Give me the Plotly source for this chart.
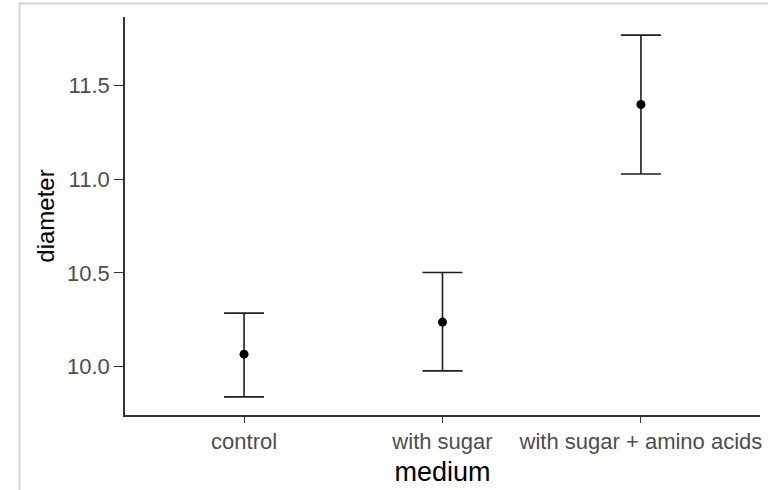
import plotly.graph_objects as go

# Mean colony diameter per growth medium, with interval bounds
medium = ["control", "with sugar", "with sugar + amino acids"]
diameter_mean = [10.066, 10.237, 11.398]
diameter_low = [9.838, 9.977, 11.027]
diameter_high = [10.285, 10.502, 11.768]

err_plus = [h - m for h, m in zip(diameter_high, diameter_mean)]
err_minus = [m - l for m, l in zip(diameter_mean, diameter_low)]

FONT = "Liberation Sans, Arial, sans-serif"
AXIS_COL = "#333333"
TICK_TXT = "#4D4D4D"

fig = go.Figure(
    go.Scatter(
        x=medium,
        y=diameter_mean,
        mode="markers",
        marker=dict(color="black", size=9),
        error_y=dict(
            type="data",
            symmetric=False,
            array=err_plus,
            arrayminus=err_minus,
            color="#1f1f1f",
            thickness=1.6,
            width=20,
        ),
        showlegend=False,
    )
)

# Data-range limits padded by 5% on each side
lo, hi = min(diameter_low), max(diameter_high)
pad = (hi - lo) * 0.05

fig.update_layout(
    width=774,
    height=490,
    margin=dict(l=125, r=14, t=17, b=75),
    paper_bgcolor="white",
    plot_bgcolor="white",
    font=dict(family=FONT),
    xaxis=dict(
        type="category",
        range=[-0.6, 2.6],
        automargin=False,
        showline=True,
        linecolor=AXIS_COL,
        linewidth=1.6,
        showgrid=False,
        zeroline=False,
        ticks="outside",
        ticklen=6,
        tickwidth=1.3,
        tickcolor=AXIS_COL,
        tickfont=dict(size=22, color=TICK_TXT, family=FONT),
        title=dict(text="medium", font=dict(size=27, color="black", family=FONT), standoff=9),
    ),
    yaxis=dict(
        range=[lo - pad, hi + pad],
        tickvals=[10.0, 10.5, 11.0, 11.5],
        ticktext=["10.0", "10.5", "11.0", "11.5"],
        automargin=False,
        showline=True,
        linecolor=AXIS_COL,
        linewidth=1.6,
        showgrid=False,
        zeroline=False,
        ticks="outside",
        ticklen=9,
        tickwidth=1.3,
        tickcolor=AXIS_COL,
        tickfont=dict(size=22, color=TICK_TXT, family=FONT),
        title=dict(text="diameter", font=dict(size=24, color="black", family=FONT), standoff=6),
    ),
)

# Thin frame along the top and left edges of the page
fig.add_shape(
    type="path",
    xref="paper",
    yref="paper",
    path="M -0.1661,-0.19 L -0.1661,1.0339 L 1.0126,1.0339",
    line=dict(color="#d4d4d4", width=2),
    layer="above",
)

fig.write_html("out.html")
